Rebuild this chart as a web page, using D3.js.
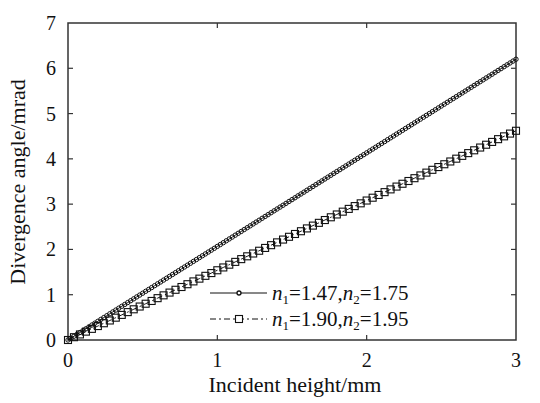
<!DOCTYPE html>
<html>
<head>
<meta charset="utf-8">
<script src="https://cdn.jsdelivr.net/npm/d3@7"></script>
<style>
  body { margin: 0; background: #fff; }
  text { font-family: "Liberation Serif", "Times New Roman", serif; fill: #111; }
</style>
</head>
<body>
<svg id="chart" width="540" height="403"></svg>
<script>
// incident height (mm) / divergence angle (mrad)
const xCircle = [
  0, 0.02, 0.04, 0.06, 0.08, 0.10, 0.12, 0.14, 0.16, 0.18, 0.20, 0.22, 0.24, 0.26, 0.28,
  0.30, 0.32, 0.34, 0.36, 0.38, 0.40, 0.42, 0.44, 0.46, 0.48, 0.50, 0.52, 0.54, 0.56, 0.58,
  0.60, 0.62, 0.64, 0.66, 0.68, 0.70, 0.72, 0.74, 0.76, 0.78, 0.80, 0.82, 0.84, 0.86, 0.88,
  0.90, 0.92, 0.94, 0.96, 0.98, 1.00, 1.02, 1.04, 1.06, 1.08, 1.10, 1.12, 1.14, 1.16, 1.18,
  1.20, 1.22, 1.24, 1.26, 1.28, 1.30, 1.32, 1.34, 1.36, 1.38, 1.40, 1.42, 1.44, 1.46, 1.48,
  1.50, 1.52, 1.54, 1.56, 1.58, 1.60, 1.62, 1.64, 1.66, 1.68, 1.70, 1.72, 1.74, 1.76, 1.78,
  1.80, 1.82, 1.84, 1.86, 1.88, 1.90, 1.92, 1.94, 1.96, 1.98, 2.00, 2.02, 2.04, 2.06, 2.08,
  2.10, 2.12, 2.14, 2.16, 2.18, 2.20, 2.22, 2.24, 2.26, 2.28, 2.30, 2.32, 2.34, 2.36, 2.38,
  2.40, 2.42, 2.44, 2.46, 2.48, 2.50, 2.52, 2.54, 2.56, 2.58, 2.60, 2.62, 2.64, 2.66, 2.68,
  2.70, 2.72, 2.74, 2.76, 2.78, 2.80, 2.82, 2.84, 2.86, 2.88, 2.90, 2.92, 2.94, 2.96, 2.98,
  3.00
];
const yCircle = [
  0, 0.041, 0.083, 0.124, 0.165, 0.207, 0.248, 0.289, 0.331, 0.372, 0.413, 0.455, 0.496, 0.537, 0.579,
  0.620, 0.661, 0.703, 0.744, 0.785, 0.827, 0.868, 0.909, 0.951, 0.992, 1.033, 1.075, 1.116, 1.157, 1.199,
  1.240, 1.281, 1.323, 1.364, 1.405, 1.447, 1.488, 1.529, 1.571, 1.612, 1.653, 1.695, 1.736, 1.777, 1.819,
  1.860, 1.901, 1.943, 1.984, 2.025, 2.067, 2.108, 2.149, 2.191, 2.232, 2.273, 2.315, 2.356, 2.397, 2.439,
  2.480, 2.521, 2.563, 2.604, 2.645, 2.687, 2.728, 2.769, 2.811, 2.852, 2.893, 2.935, 2.976, 3.017, 3.059,
  3.100, 3.141, 3.183, 3.224, 3.265, 3.307, 3.348, 3.389, 3.431, 3.472, 3.513, 3.555, 3.596, 3.637, 3.679,
  3.720, 3.761, 3.803, 3.844, 3.885, 3.927, 3.968, 4.009, 4.051, 4.092, 4.133, 4.175, 4.216, 4.257, 4.299,
  4.340, 4.381, 4.423, 4.464, 4.505, 4.547, 4.588, 4.629, 4.671, 4.712, 4.753, 4.795, 4.836, 4.877, 4.919,
  4.960, 5.001, 5.043, 5.084, 5.125, 5.167, 5.208, 5.249, 5.291, 5.332, 5.373, 5.415, 5.456, 5.497, 5.539,
  5.580, 5.621, 5.663, 5.704, 5.745, 5.787, 5.828, 5.869, 5.911, 5.952, 5.993, 6.035, 6.076, 6.117, 6.159,
  6.200
];

const xSquare = [
  0, 0.04, 0.08, 0.12, 0.16, 0.20, 0.24, 0.28, 0.32, 0.36, 0.40, 0.44, 0.48, 0.52, 0.56, 0.60, 0.64, 0.68, 0.72, 0.76, 0.80, 0.84, 0.88, 0.92, 0.96,
  1.00, 1.04, 1.08, 1.12, 1.16, 1.20, 1.24, 1.28, 1.32, 1.36, 1.40, 1.44, 1.48, 1.52, 1.56, 1.60, 1.64, 1.68, 1.72, 1.76, 1.80, 1.84, 1.88, 1.92, 1.96,
  2.00, 2.04, 2.08, 2.12, 2.16, 2.20, 2.24, 2.28, 2.32, 2.36, 2.40, 2.44, 2.48, 2.52, 2.56, 2.60, 2.64, 2.68, 2.72, 2.76, 2.80, 2.84, 2.88, 2.92, 2.96,
  3.00
];
const ySquare = [
  0, 0.062, 0.123, 0.185, 0.246, 0.308, 0.370, 0.431, 0.493, 0.554, 0.616, 0.678, 0.739, 0.801, 0.862, 0.924, 0.986, 1.047, 1.109, 1.170, 1.232, 1.294, 1.355, 1.417, 1.478,
  1.540, 1.602, 1.663, 1.725, 1.786, 1.848, 1.910, 1.971, 2.033, 2.094, 2.156, 2.218, 2.279, 2.341, 2.402, 2.464, 2.526, 2.587, 2.649, 2.710, 2.772, 2.834, 2.895, 2.957, 3.018,
  3.080, 3.142, 3.203, 3.265, 3.326, 3.388, 3.450, 3.511, 3.573, 3.634, 3.696, 3.758, 3.819, 3.881, 3.942, 4.004, 4.066, 4.127, 4.189, 4.250, 4.312, 4.374, 4.435, 4.497, 4.558,
  4.620
];

const xTicks = [0, 1, 2, 3];
const yTicks = [0, 1, 2, 3, 4, 5, 6, 7];

const margin = { top: 23, right: 24, bottom: 63, left: 68 };
const width = 540, height = 403;
const innerW = width - margin.left - margin.right;
const innerH = height - margin.top - margin.bottom;

const svg = d3.select("#chart");
const g = svg.append("g").attr("transform", `translate(${margin.left},${margin.top})`);

const x = d3.scaleLinear().domain([0, 3]).range([0, innerW]);
const y = d3.scaleLinear().domain([0, 7]).range([innerH, 0]);

const tickLen = 5;
const frameColor = "#333";

// frame
g.append("rect")
  .attr("width", innerW).attr("height", innerH)
  .attr("fill", "none").attr("stroke", frameColor).attr("stroke-width", 1.5);

// inward ticks on all four sides
const inner = yTicks.filter(d => d > 0 && d < 7);
g.selectAll(".ytl").data(inner).join("line")
  .attr("x1", 0).attr("x2", tickLen)
  .attr("y1", d => y(d)).attr("y2", d => y(d))
  .attr("stroke", frameColor).attr("stroke-width", 1.2);
g.selectAll(".ytr").data(inner).join("line")
  .attr("x1", innerW).attr("x2", innerW - tickLen)
  .attr("y1", d => y(d)).attr("y2", d => y(d))
  .attr("stroke", frameColor).attr("stroke-width", 1.2);
const innerX = xTicks.filter(d => d > 0 && d < 3);
g.selectAll(".xtb").data(innerX).join("line")
  .attr("x1", d => x(d)).attr("x2", d => x(d))
  .attr("y1", innerH).attr("y2", innerH - tickLen)
  .attr("stroke", frameColor).attr("stroke-width", 1.2);
g.selectAll(".xtt").data(innerX).join("line")
  .attr("x1", d => x(d)).attr("x2", d => x(d))
  .attr("y1", 0).attr("y2", tickLen)
  .attr("stroke", frameColor).attr("stroke-width", 1.2);

// tick labels
g.selectAll(".ylab").data(yTicks).join("text")
  .attr("x", -12).attr("y", d => y(d) + 7)
  .attr("text-anchor", "end").attr("font-size", 20)
  .text(d => d);
g.selectAll(".xlab").data(xTicks).join("text")
  .attr("x", d => x(d)).attr("y", innerH + 27)
  .attr("text-anchor", "middle").attr("font-size", 20)
  .text(d => d);

// axis titles
svg.append("text")
  .attr("x", 295).attr("y", 392)
  .attr("text-anchor", "middle").attr("font-size", 22)
  .text("Incident height/mm");
svg.append("text")
  .attr("transform", "translate(25,182) rotate(-90)")
  .attr("text-anchor", "middle").attr("font-size", 22)
  .text("Divergence angle/mrad");

const circData = xCircle.map((v, i) => [v, yCircle[i]]);
const sqData = xSquare.map((v, i) => [v, ySquare[i]]);
const line = d3.line().x(d => x(d[0])).y(d => y(d[1]));

g.append("path").datum(sqData).attr("d", line)
  .attr("fill", "none").attr("stroke", "#111").attr("stroke-width", 1)
  .attr("stroke-dasharray", "6,3,2,3");
g.append("path").datum(circData).attr("d", line)
  .attr("fill", "none").attr("stroke", "#111").attr("stroke-width", 1);

const sq = 7;
g.selectAll(".sq").data(sqData).join("rect")
  .attr("x", d => x(d[0]) - sq / 2).attr("y", d => y(d[1]) - sq / 2)
  .attr("width", sq).attr("height", sq)
  .attr("fill", "none").attr("stroke", "#111").attr("stroke-width", 1.1);
g.selectAll(".ci").data(circData).join("circle")
  .attr("cx", d => x(d[0])).attr("cy", d => y(d[1])).attr("r", 2.2)
  .attr("fill", "none").attr("stroke", "#111").attr("stroke-width", 1);

// legend
const legend = svg.append("g");
const items = [
  { label: ["1.47", "1.75"], dash: null, mark: "circle", y: 293 },
  { label: ["1.90", "1.95"], dash: "6,3,2,3", mark: "square", y: 319 }
];
items.forEach(it => {
  legend.append("line")
    .attr("x1", 210).attr("x2", 267).attr("y1", it.y).attr("y2", it.y)
    .attr("stroke", "#111").attr("stroke-width", 1)
    .attr("stroke-dasharray", it.dash);
  if (it.mark === "circle") {
    legend.append("circle").attr("cx", 239).attr("cy", it.y).attr("r", 2)
      .attr("fill", "#fff").attr("stroke", "#111").attr("stroke-width", 1.3);
  } else {
    legend.append("rect").attr("x", 235.5).attr("y", it.y - 3.5).attr("width", 7).attr("height", 7)
      .attr("fill", "#fff").attr("stroke", "#111").attr("stroke-width", 1.1);
  }
  const t = legend.append("text").attr("x", 272).attr("y", it.y + 7).attr("font-size", 21);
  t.append("tspan").attr("font-style", "italic").text("n");
  t.append("tspan").attr("font-size", 13).attr("dy", 4).text("1");
  t.append("tspan").attr("dy", -4).text("=" + it.label[0] + ",");
  t.append("tspan").attr("font-style", "italic").text("n");
  t.append("tspan").attr("font-size", 13).attr("dy", 4).text("2");
  t.append("tspan").attr("dy", -4).text("=" + it.label[1]);
});
</script>
</body>
</html>
